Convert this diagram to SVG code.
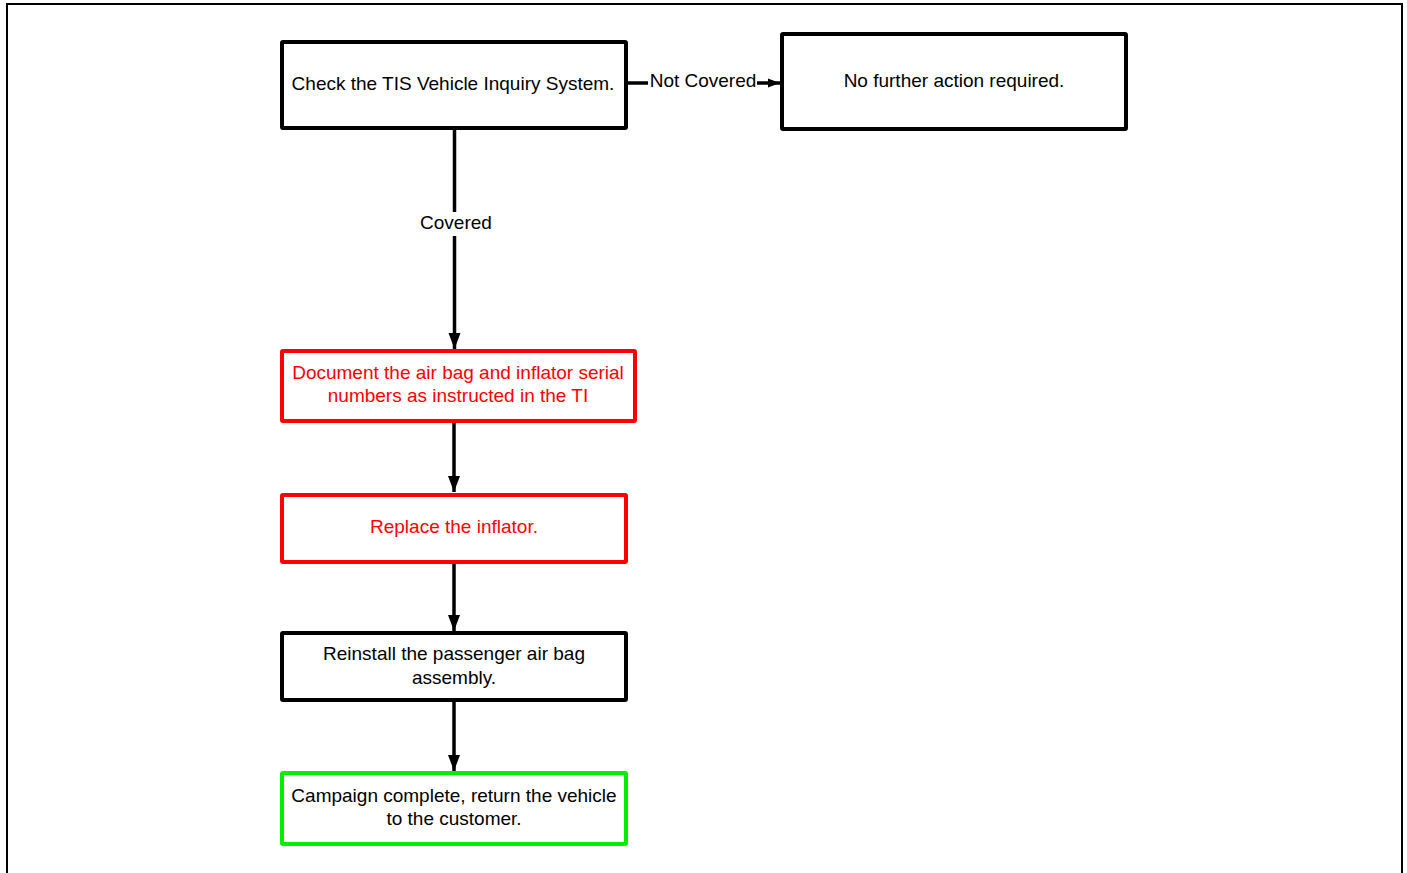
<svg xmlns="http://www.w3.org/2000/svg" width="1407" height="873" viewBox="0 0 1407 873">
<defs>
<style>
.box{fill:#fff;stroke:#000;stroke-width:4}
.red{stroke:#ff0000}
.green{stroke:#00f000}
.t{font-family:"Liberation Sans",Arial,sans-serif;font-size:19px;fill:#000;text-anchor:middle}
.tr{fill:#ff0000}
.c{fill:none;stroke:#000;stroke-width:3.5}
</style>
<marker id="ah" markerUnits="userSpaceOnUse" markerWidth="18" markerHeight="14" refX="16" refY="7" orient="auto">
<path d="M0,1 L16,7 L0,13 Z" fill="#000"/>
</marker>
<marker id="ahs" markerUnits="userSpaceOnUse" markerWidth="13" markerHeight="12" refX="12" refY="6" orient="auto">
<path d="M0,1.5 L12,6 L0,10.5 Z" fill="#000"/>
</marker>
</defs>
<rect width="1407" height="873" fill="#fff"/>
<path d="M7,873 V4 H1402 V873" fill="none" stroke="#000" stroke-width="2"/>
<g id="connectors">
<path class="c" d="M628,83 H648"/>
<path class="c" d="M757,83 H780" marker-end="url(#ahs)"/>
<text class="t" x="703" y="87">Not Covered</text>
<path class="c" d="M454.5,130 V212"/>
<path class="c" d="M454.5,236 V349" marker-end="url(#ah)"/>
<text class="t" x="456" y="229">Covered</text>
<path class="c" d="M454,423 V492" marker-end="url(#ah)"/>
<path class="c" d="M454,564 V631" marker-end="url(#ah)"/>
<path class="c" d="M454,702 V771" marker-end="url(#ah)"/>
</g>
<g id="check">
<rect class="box" x="282" y="42" width="344" height="86" rx="1"/>
<text class="t" x="453" y="90">Check the TIS Vehicle Inquiry System.</text>
</g>
<g id="nofurther">
<rect class="box" x="782" y="34" width="344" height="95" rx="1"/>
<text class="t" x="954" y="87">No further action required.</text>
</g>
<g id="document">
<rect class="box red" x="282" y="351" width="353" height="70" rx="1"/>
<text class="t tr" x="458" y="379">Document the air bag and inflator serial</text>
<text class="t tr" x="458" y="402">numbers as instructed in the TI</text>
</g>
<g id="replace">
<rect class="box red" x="282" y="495" width="344" height="67" rx="1"/>
<text class="t tr" x="454" y="533">Replace the inflator.</text>
</g>
<g id="reinstall">
<rect class="box" x="282" y="633" width="344" height="67" rx="1"/>
<text class="t" x="454" y="660">Reinstall the passenger air bag</text>
<text class="t" x="454" y="684">assembly.</text>
</g>
<g id="campaign">
<rect class="box green" x="282" y="773" width="344" height="71" rx="1"/>
<text class="t" x="454" y="802">Campaign complete, return the vehicle</text>
<text class="t" x="454" y="825">to the customer.</text>
</g>
</svg>
